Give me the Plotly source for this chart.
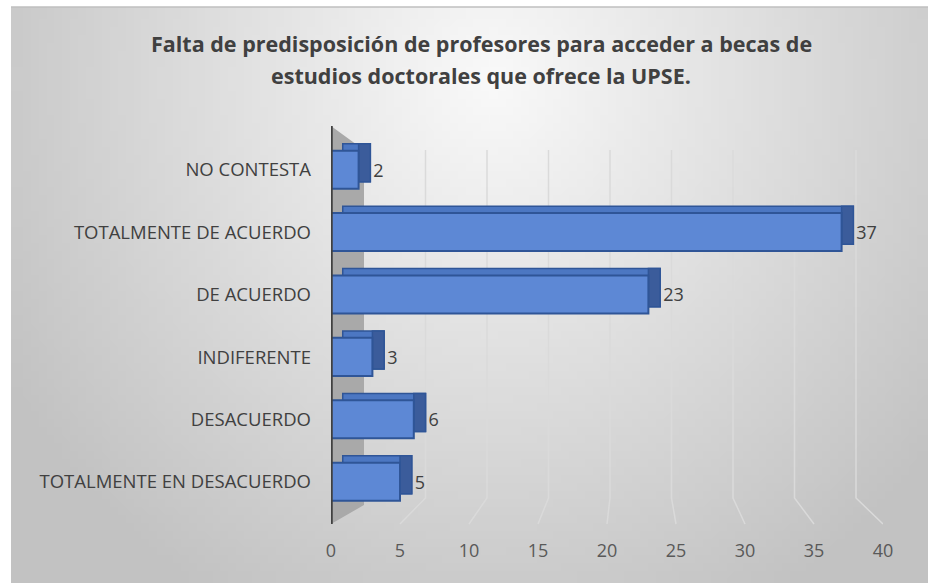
import base64
import struct
import zlib

import plotly.graph_objects as go

categorias = [
    "TOTALMENTE EN DESACUERDO",
    "DESACUERDO",
    "INDIFERENTE",
    "DE ACUERDO",
    "TOTALMENTE DE ACUERDO",
    "NO CONTESTA",
]
valores = [5, 6, 3, 23, 37, 2]
ticks_x = [0, 5, 10, 15, 20, 25, 30, 35, 40]
titulo = [
    "Falta de predisposición de profesores para acceder a becas de",
    "estudios doctorales que ofrece la UPSE.",
]

W, H = 928, 583
L, R, T, B = 331, 45, 126, 59
PW, PH = W - L - R, H - T - B


def px_to_paper_x(px):
    return (px - L) / PW


def px_to_paper_y(py):
    return (H - B - py) / PH


def gradient_png(w, h):
    # fondo gris con degradado radial (blanco arriba al centro)
    rows = []
    cx, cy = w * 0.52, h * 0.12
    for j in range(h):
        row = bytearray([0])
        for i in range(w):
            dx = (i - cx) / (w * 0.62)
            dy = (j - cy) / (h * 1.05)
            d = min(1.0, (dx * dx + dy * dy) ** 0.5)
            v = int(250 - 56 * d)
            row += bytes([v, v, v])
        rows.append(bytes(row))
    raw = b"".join(rows)

    def chunk(tag, data):
        c = struct.pack(">I", len(data)) + tag + data
        return c + struct.pack(">I", zlib.crc32(tag + data) & 0xFFFFFFFF)

    png = b"\x89PNG\r\n\x1a\n"
    png += chunk(b"IHDR", struct.pack(">IIBBBBB", w, h, 8, 2, 0, 0, 0))
    png += chunk(b"IDAT", zlib.compress(raw, 9))
    png += chunk(b"IEND", b"")
    return "data:image/png;base64," + base64.b64encode(png).decode()


fig = go.Figure()

prof = 0.85      # profundidad del efecto 3D (unidades del eje)
ancho = 0.61
# cara superior
fig.add_trace(go.Bar(
    y=categorias, x=valores, base=prof, orientation="h",
    width=ancho, offset=-0.19,
    marker=dict(color="#4c77c2", line=dict(color="#2f5597", width=1.5)),
    hoverinfo="skip",
))
# cara lateral
fig.add_trace(go.Bar(
    y=categorias, x=[prof] * len(valores), base=valores, orientation="h",
    width=ancho, offset=-0.19,
    marker=dict(color="#3b5c9b", line=dict(color="#2f5597", width=1.5)),
    hoverinfo="skip",
))
# cara frontal
fig.add_trace(go.Bar(
    y=categorias, x=valores, orientation="h",
    width=ancho, offset=-0.3,
    marker=dict(color="#5d88d5", line=dict(color="#2f5597", width=2)),
    hovertemplate="%{y}: %{x}<extra></extra>",
))
# etiquetas de datos
fig.add_trace(go.Bar(
    y=categorias, x=valores, base=prof, orientation="h",
    width=ancho, offset=-0.3,
    marker=dict(color="rgba(0,0,0,0)", line=dict(width=0)),
    text=valores, textposition="outside", cliponaxis=False,
    textfont=dict(size=18, color="#404040", family="Open Sans"),
    hoverinfo="skip",
))

shapes = []
# pared lateral gris
wall_x = 33 / (PW / 40)
shapes.append(dict(
    type="path", xref="x", yref="paper", layer="below",
    path=f"M 0,1 L {wall_x},{px_to_paper_y(150)} L {wall_x},{px_to_paper_y(505)} L 0,0 Z",
    fillcolor="#a9a9a9", line=dict(width=0),
))
# lineas de division en perspectiva
for v in ticks_x[1:]:
    bx = (33 + v * 12.3) / (PW / 40)
    y_top = px_to_paper_y(150)
    y_bot = px_to_paper_y(498)
    shapes.append(dict(
        type="path", xref="x", yref="paper", layer="below",
        path=f"M {bx},{y_top} L {bx},{y_bot} L {v},0",
        line=dict(color="#dadada", width=1.5),
    ))
# eje vertical oscuro
shapes.append(dict(
    type="line", xref="x", yref="paper", x0=0, x1=0, y0=0, y1=1,
    line=dict(color="#404040", width=3.5), layer="above",
))
# borde superior del area del grafico
shapes.append(dict(
    type="line", xref="paper", yref="paper",
    x0=px_to_paper_x(11), x1=px_to_paper_x(W), y0=px_to_paper_y(7), y1=px_to_paper_y(7),
    line=dict(color="#bfbfbf", width=1.5), layer="below",
))

annotations = []
for linea, ypx in zip(titulo, [43.5, 75.5]):
    annotations.append(dict(
        text=f"<b>{linea}</b>", showarrow=False,
        xref="paper", yref="paper",
        x=px_to_paper_x(481), y=px_to_paper_y(ypx),
        xanchor="center", yanchor="middle",
        font=dict(family="Open Sans", size=21.5, color="#404040"),
    ))

fig.update_layout(
    width=W, height=H,
    margin=dict(l=L, r=R, t=T, b=B, autoexpand=False),
    paper_bgcolor="white",
    plot_bgcolor="rgba(0,0,0,0)",
    barmode="overlay",
    showlegend=False,
    font=dict(family="Open Sans", color="#404040"),
    xaxis=dict(
        range=[0, 40], tickvals=ticks_x, showgrid=False, zeroline=False,
        showline=False, ticks="", tickfont=dict(size=18, color="#595959"),
        ticklabelstandoff=14, fixedrange=True, automargin=False,
    ),
    yaxis=dict(
        type="category", categoryorder="array", categoryarray=categorias,
        range=[-0.673, 5.705], showgrid=False, zeroline=False, showline=False,
        ticks="", tickfont=dict(size=18.5, color="#404040"),
        ticklabelstandoff=19, fixedrange=True, automargin=False,
    ),
    shapes=shapes,
    annotations=annotations,
    images=[dict(
        source=gradient_png(116, 72), xref="paper", yref="paper",
        x=px_to_paper_x(11), y=px_to_paper_y(7),
        sizex=(W - 11) / PW, sizey=(H - 7) / PH,
        xanchor="left", yanchor="top", sizing="stretch", layer="below",
    )],
)

fig.write_html(
    "out.html",
    config={"displayModeBar": False},
    post_script="document.body.style.margin='0';",
)
